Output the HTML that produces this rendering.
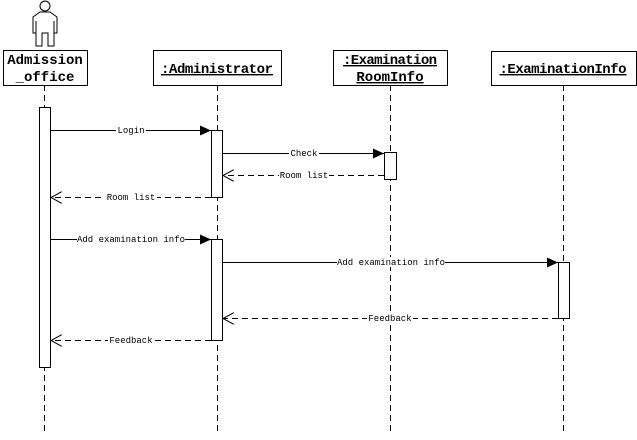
<!DOCTYPE html>
<html><head><style>body{margin:0;background:#fff}</style></head><body>
<svg width="637" height="435" xmlns="http://www.w3.org/2000/svg" font-family="Liberation Mono, monospace">
<defs><marker id="f" markerWidth="12" markerHeight="10" refX="11" refY="5" orient="auto" markerUnits="userSpaceOnUse"><path d="M0,0 L11,5 L0,10z" fill="#000"/></marker>
<marker id="o" markerWidth="12" markerHeight="12" refX="11" refY="6" orient="auto" markerUnits="userSpaceOnUse"><path d="M0,0 L11,6 L0,12" fill="none" stroke="#000"/></marker></defs>
<g stroke="#000" stroke-dasharray="6,4" fill="none">
<line x1="44.5" y1="85" x2="44.5" y2="435"/><line x1="217.5" y1="85" x2="217.5" y2="435"/>
<line x1="390.5" y1="85" x2="390.5" y2="435"/><line x1="563.5" y1="85" x2="563.5" y2="435"/></g>
<g stroke="#000" fill="#fff">
<circle cx="45" cy="6" r="5"/>
<path d="M40,12 H50 L57,17 V33 H54 V21 V46 H48 V33 H42 V46 H36 V21 V33 H33 V17 Z"/>
<rect x="3.5" y="50.5" width="84" height="35"/>
<rect x="153.5" y="50.5" width="128" height="35"/>
<rect x="333.5" y="50.5" width="114" height="35"/>
<rect x="491.5" y="51.5" width="145" height="34"/>
<rect x="39.5" y="107.5" width="11" height="260"/>
<rect x="211.5" y="130.5" width="11" height="67"/>
<rect x="211.5" y="239.5" width="11" height="101"/>
<rect x="384.5" y="152.5" width="12" height="27"/>
<rect x="558.5" y="262.5" width="11" height="56"/>
</g>
<g font-family="Liberation Mono, monospace" font-weight="bold" font-size="14" text-anchor="middle">
<text x="45" y="64">Admission</text><text x="45" y="81">_office</text>
<text x="217" y="73" text-decoration="underline" textLength="112">:Administrator</text>
<text x="390" y="64" text-decoration="underline" textLength="94">:Examination</text>
<text x="390" y="81" text-decoration="underline">RoomInfo</text>
<text x="563" y="73" text-decoration="underline" textLength="127">:ExaminationInfo</text>
</g>
<g stroke="#000">
<line x1="50" y1="130.5" x2="211" y2="130.5" marker-end="url(#f)"/>
<line x1="222" y1="153.5" x2="384" y2="153.5" marker-end="url(#f)"/>
<line x1="50" y1="239.5" x2="211" y2="239.5" marker-end="url(#f)"/>
<line x1="222" y1="262.5" x2="558" y2="262.5" marker-end="url(#f)"/>
<g stroke-dasharray="6,4"><line x1="384" y1="175.5" x2="223" y2="175.5" marker-end="url(#o)"/>
<line x1="211" y1="197.5" x2="51" y2="197.5" marker-end="url(#o)"/>
<line x1="558" y1="318.5" x2="223" y2="318.5" marker-end="url(#o)"/>
<line x1="211" y1="340.5" x2="51" y2="340.5" marker-end="url(#o)"/></g>
</g>
<g font-size="9" text-anchor="middle">
<g fill="#fff"><rect x="116" y="125" width="30" height="10"/><rect x="289" y="148" width="30" height="10"/><rect x="279" y="170" width="50" height="10"/><rect x="105" y="192" width="52" height="10"/><rect x="77" y="234" width="108" height="10"/><rect x="337" y="257" width="108" height="10"/><rect x="367" y="313" width="46" height="10"/><rect x="108" y="335" width="46" height="10"/></g>
<text x="131" y="133">Login</text><text x="304" y="156">Check</text><text x="304" y="178">Room list</text>
<text x="131" y="200">Room list</text><text x="131" y="242">Add examination info</text>
<text x="391" y="265">Add examination info</text><text x="390" y="321">Feedback</text><text x="131" y="343">Feedback</text>
</g>
</svg>
</body></html>
